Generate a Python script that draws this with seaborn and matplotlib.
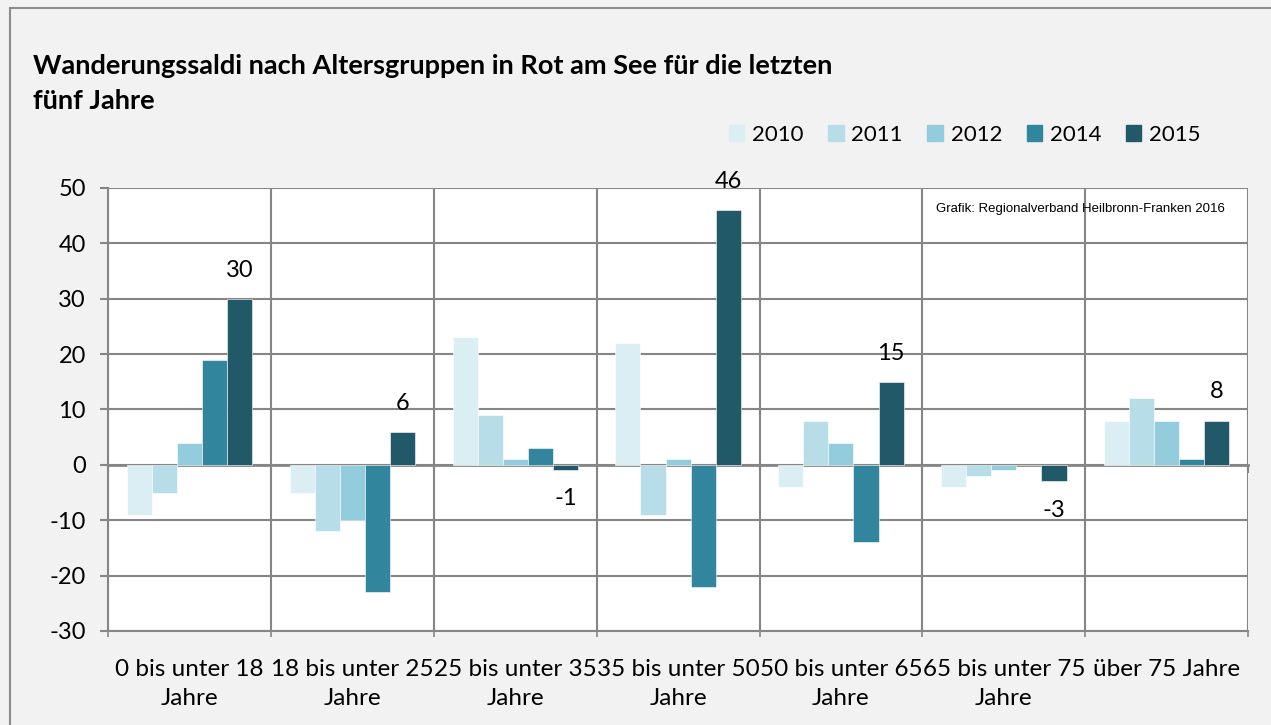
"""
Wanderungssaldi nach Altersgruppen in Rot am See (2010-2015),
grouped bar chart recreated with seaborn.
"""

import matplotlib

matplotlib.use("Agg")
import matplotlib.pyplot as plt
import numpy as np
import pandas as pd
import seaborn as sns
from matplotlib.patches import Rectangle

GROUPS = [
    "0 bis unter 18\nJahre",
    "18 bis unter 25\nJahre",
    "25 bis unter 35\nJahre",
    "35 bis unter 50\nJahre",
    "50 bis unter 65\nJahre",
    "65 bis unter 75\nJahre",
    "über 75 Jahre",
]
YEARS = ["2010", "2011", "2012", "2014", "2015"]

SALDO_2010 = [-9, -5, 23, 22, -4, -4, 8]
SALDO_2011 = [-5, -12, 9, -9, 8, -2, 12]
SALDO_2012 = [4, -10, 1, 1, 4, -1, 8]
SALDO_2014 = [19, -23, 3, -22, -14, 0, 1]
SALDO_2015 = [30, 6, -1, 46, 15, -3, 8]

COLORS = ["#dbeef4", "#b7dee8", "#93cddd", "#31859c", "#215968"]
GRID = "#868686"


def main():
    series = [SALDO_2010, SALDO_2011, SALDO_2012, SALDO_2014, SALDO_2015]
    rows = []
    for year, values in zip(YEARS, series):
        for group, v in zip(GROUPS, values):
            rows.append({"gruppe": group, "jahr": year, "saldo": v})
    df = pd.DataFrame(rows)

    sns.set_theme(style="white")
    plt.rcParams["font.family"] = ["Lato", "DejaVu Sans"]
    plt.rcParams["axes.unicode_minus"] = False
    plt.rcParams["text.color"] = "black"

    fig = plt.figure(figsize=(12.71, 7.25), dpi=100, facecolor="#f2f2f2")
    ax = fig.add_axes([0.085, 0.1297, 0.897, 0.611])
    ax.set_facecolor("white")

    sns.barplot(
        data=df,
        x="gruppe",
        y="saldo",
        hue="jahr",
        hue_order=YEARS,
        palette=COLORS,
        saturation=1,
        width=0.77,
        edgecolor="white",
        linewidth=0.4,
        ax=ax,
        zorder=3,
    )

    ax.set_xlim(-0.5, len(GROUPS) - 0.5)
    ax.set_ylim(-30, 50)
    ax.set_yticks(np.arange(-30, 51, 10))
    ax.set_xlabel("")
    ax.set_ylabel("")

    # grid: horizontal at major y ticks, vertical at category borders
    ax.set_xticks(np.arange(-0.5, len(GROUPS)), minor=True)
    ax.grid(axis="y", color=GRID, linewidth=1.5, zorder=0)
    ax.grid(axis="x", which="minor", color=GRID, linewidth=1.5, zorder=0)
    ax.set_axisbelow(True)

    for side in ["top", "right"]:
        ax.spines[side].set_visible(False)
    for side in ["left", "bottom"]:
        ax.spines[side].set_color(GRID)
        ax.spines[side].set_linewidth(1.5)

    ax.tick_params(axis="y", length=6, width=1.5, color=GRID, pad=10,
                   labelsize=17, labelcolor="black", left=True)
    ax.tick_params(axis="x", which="major", length=0, pad=20,
                   labelsize=17.5, labelcolor="black")
    ax.tick_params(axis="x", which="minor", length=4, width=1.2, color=GRID,
                   bottom=True)
    for lbl in ax.get_xticklabels():
        lbl.set_linespacing(1.5)

    # zero line with its small category ticks
    zero_axis = ax.secondary_xaxis(30 / 80)
    zero_axis.set_xticks(np.arange(-0.5, len(GROUPS)))
    zero_axis.set_xticklabels([])
    zero_axis.tick_params(length=6, width=1.5, color=GRID)
    zero_axis.spines["bottom"].set_color(GRID)
    zero_axis.spines["bottom"].set_linewidth(2)

    # labels only for 2015
    ax.bar_label(ax.containers[-1], fmt="%d", padding=13, fontsize=17)

    ax.legend_.remove()
    handles = [Rectangle((0, 0), 1, 1, color=c) for c in COLORS]
    fig.legend(
        handles,
        YEARS,
        loc="center",
        bbox_to_anchor=(0.759, 0.814),
        ncol=5,
        frameon=False,
        fontsize=16,
        handlelength=0.7,
        handleheight=0.7,
        handletextpad=0.35,
        columnspacing=1.1,
    )

    fig.text(
        0.026,
        0.925,
        "Wanderungssaldi nach Altersgruppen in Rot am See für die letzten\nfünf Jahre",
        fontsize=19.5,
        fontweight="bold",
        va="top",
        ha="left",
        linespacing=1.55,
    )

    ax.text(
        0.98,
        0.965,
        "Grafik: Regionalverband Heilbronn-Franken 2016",
        transform=ax.transAxes,
        ha="right",
        va="top",
        fontsize=9.5,
        family=["Liberation Sans", "DejaVu Sans"],
    )

    fig.patches.append(
        Rectangle((0.0079, -0.2), 1.2, 1.189, transform=fig.transFigure,
                  fill=False, edgecolor="#8c8c8c", linewidth=1.5)
    )

    fig.savefig("out.png", dpi=100, facecolor=fig.get_facecolor())
    plt.close(fig)


if __name__ == "__main__":
    main()
